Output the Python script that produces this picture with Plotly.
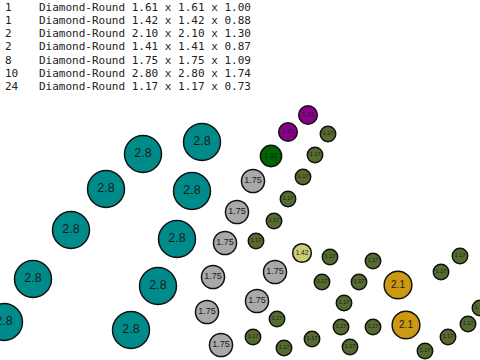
import plotly.graph_objects as go

# Legend rows: count, shape, dimensions
counts = [1, 1, 2, 2, 8, 10, 24]
shape = "Diamond-Round"
dims = ["1.61 x 1.61 x 1.00", "1.42 x 1.42 x 0.88", "2.10 x 2.10 x 1.30",
        "1.41 x 1.41 x 0.87", "1.75 x 1.75 x 1.09", "2.80 x 2.80 x 1.74",
        "1.17 x 1.17 x 0.73"]

# Stone groups: label value, colour, positions (pixel-like chart units)
teal_x = [202, 143, 106, 192, 71, 177, 33, 158, 4, 131]
teal_y = [142, 154, 189, 191, 230, 239, 279, 286, 322, 330]

gray_x = [253, 237, 225, 213, 207, 221, 275, 257]
gray_y = [181, 212, 243, 277, 312, 345, 272, 301]

olive_x = [328, 315, 303, 288, 274, 256, 330, 373, 460, 441, 322, 359, 344,
           277, 341, 373, 468, 448, 253, 312, 284, 350, 425, 480]
olive_y = [134, 155, 177, 199, 221, 241, 257, 261, 256, 272, 282, 282, 303,
           319, 327, 327, 324, 337, 337, 339, 348, 347, 351, 308]

orange_x = [398, 406]
orange_y = [285, 325]

purple_x = [308, 288]
purple_y = [115, 132]

yellow_x = [302]
yellow_y = [253]

green_x = [271]
green_y = [156]

groups = [
    ("2.8", 2.80, 12.5, "#008B8B", teal_x, teal_y),
    ("1.75", 1.75, 9, "#A9A9A9", gray_x, gray_y),
    ("1.17", 1.17, 5.5, "#556B2F", olive_x, olive_y),
    ("2.1", 2.10, 10, "#CC9911", orange_x, orange_y),
    ("1.41", 1.41, 6.5, "#8B008B", purple_x, purple_y),
    ("1.42", 1.42, 6.5, "#CCCC77", yellow_x, yellow_y),
    ("1.61", 1.61, 7, "#006400", green_x, green_y),
]

fig = go.Figure()
for label, val, fs, color, xs, ys in groups:
    fig.add_trace(go.Scatter(
        x=xs, y=ys, mode="markers+text",
        text=[label] * len(xs), textposition="middle center",
        textfont=dict(family="Liberation Sans, Arial, sans-serif",
                      size=fs, color="#1a1a1a"),
        marker=dict(size=val * 13.2, color=color,
                    line=dict(color="#111111", width=1.5)),
        hoverinfo="skip", showlegend=False,
    ))

for i, (c, d) in enumerate(zip(counts, dims)):
    y = 7 + i * 13.3
    fig.add_annotation(x=3, y=y, text=str(c), showarrow=False,
                       xanchor="left", yanchor="middle",
                       font=dict(family="DejaVu Sans Mono, monospace", size=11, color="#222222"))
    fig.add_annotation(x=37, y=y, text=f"{shape} {d}", showarrow=False,
                       xanchor="left", yanchor="middle",
                       font=dict(family="DejaVu Sans Mono, monospace", size=11, color="#222222"))

fig.update_layout(
    width=480, height=360,
    margin=dict(l=0, r=0, t=0, b=0),
    paper_bgcolor="white", plot_bgcolor="white",
    xaxis=dict(range=[0, 480], visible=False, fixedrange=True),
    yaxis=dict(range=[360, 0], visible=False, fixedrange=True),
)

fig.write_html("out.html",
               config={"displayModeBar": False, "staticPlot": True},
               post_script="document.body.style.margin='0';document.body.style.overflow='hidden';")
